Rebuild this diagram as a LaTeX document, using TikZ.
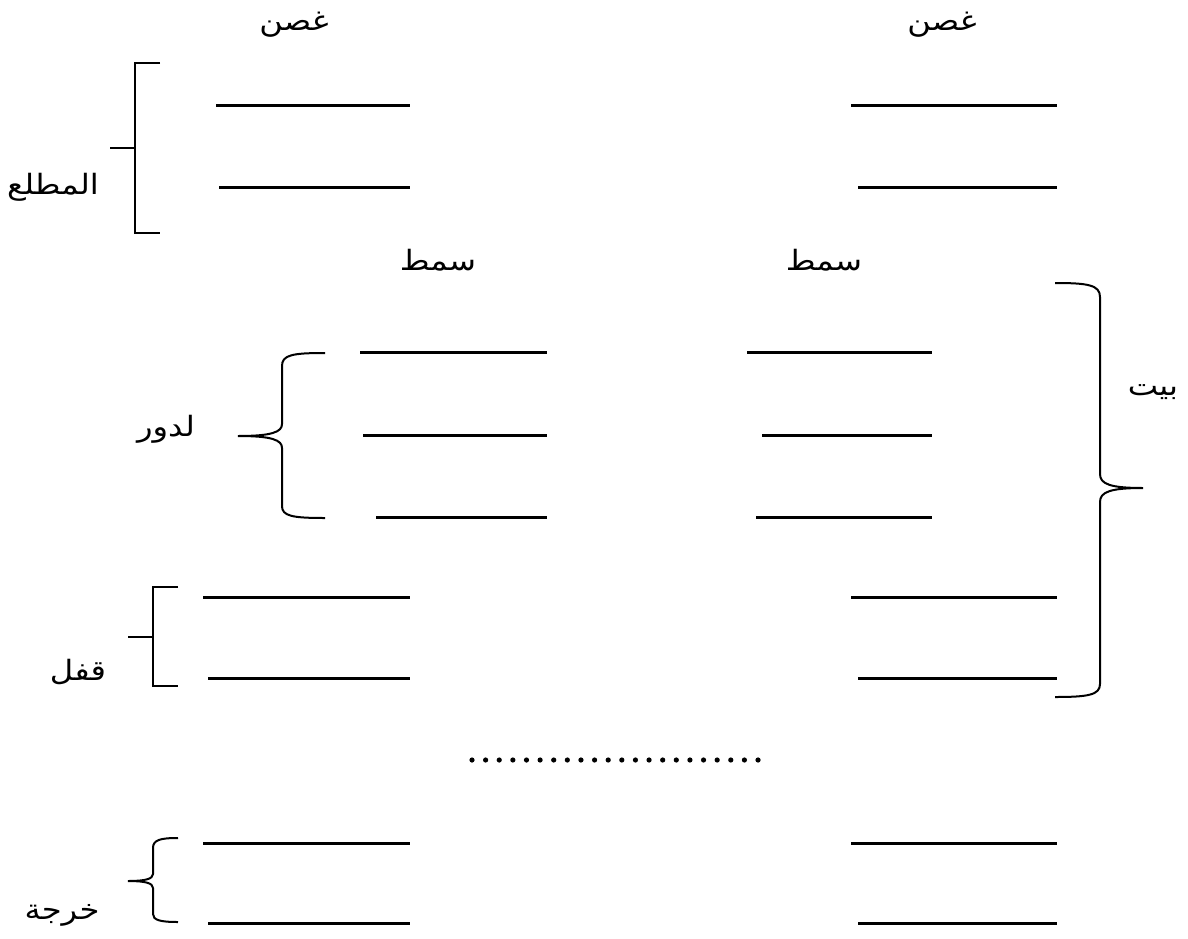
\documentclass[tikz,border=0pt]{standalone}
\usepackage{fontspec}
\newfontfamily\arabicfont[Script=Arabic,FakeStretch=1.15]{DejaVu Sans}
\TeXXeTstate=1
\begin{document}
\begin{tikzpicture}[x=1pt,y=-1pt,
  blank/.style={line width=3pt},
  brk/.style={line width=2pt},
  lbl/.style={inner sep=0pt,font=\arabicfont\fontsize{28}{32}\selectfont}]
\useasboundingbox (0,0) rectangle (1188,939);
% labels
\node[lbl] (g1) at (294,25) {\beginR غصن\endR};
\node[lbl] (g2) at (942,25) {\beginR غصن\endR};
\node[lbl] (s1) at (438,260) {\beginR سمط\endR};
\node[lbl] (s2) at (824,260) {\beginR سمط\endR};
\node[lbl] (mat) at (53,187) {\beginR المطلع\endR};
\node[lbl] (dawr) at (166,429) {\beginR لدور\endR};
\node[lbl] (qufl) at (78,672) {\beginR قفل\endR};
\node[lbl] (kharja) at (62,915) {\beginR خرجة\endR};
\node[lbl] (bayt) at (1153,392) {\beginR بيت\endR};
% blank lines
\foreach \y/\a/\b in {106/216/410,187/219/410,352/360/547,435/363/547,517/376/547,597/203/410,678/208/410,843/203/410,923/208/410}
  \draw[blank] (\a,\y) -- (\b,\y);
\foreach \y/\a/\b in {106/851/1057,187/858/1057,352/747/932,435/762/932,517/756/932,597/851/1057,678/858/1057,843/851/1057,923/858/1057}
  \draw[blank] (\a,\y) -- (\b,\y);
% square brackets
\draw[brk] (160,63) -- (135,63) -- (135,233) -- (160,233);
\draw[brk] (110,148) -- (135,148);
\draw[brk] (178,587) -- (153,587) -- (153,686) -- (178,686);
\draw[brk] (128,637) -- (153,637);
% curly braces
\draw[brk] (325,353) .. controls (292,353) and (282,355) .. (282,366) -- (282,424)
  .. controls (282,432) and (272,436) .. (238,436)
  .. controls (272,436) and (282,440) .. (282,448) -- (282,506)
  .. controls (282,516) and (292,518) .. (325,518);
\draw[brk] (178,838) .. controls (160,838) and (153,840) .. (153,848) -- (153,874)
  .. controls (153,879) and (145,881) .. (128,881)
  .. controls (145,881) and (153,883) .. (153,888) -- (153,914)
  .. controls (153,920) and (160,922) .. (178,922);
\draw[brk] (1055,283) .. controls (1088,283) and (1100,285) .. (1100,297) -- (1100,474)
  .. controls (1100,484) and (1110,488) .. (1143,488)
  .. controls (1110,488) and (1100,492) .. (1100,502) -- (1100,684)
  .. controls (1100,695) and (1088,697) .. (1055,697);
% dots
\foreach \i in {0,...,21}
  \fill (472+\i*13.62,760) circle (2.6pt);
\end{tikzpicture}
\end{document}
